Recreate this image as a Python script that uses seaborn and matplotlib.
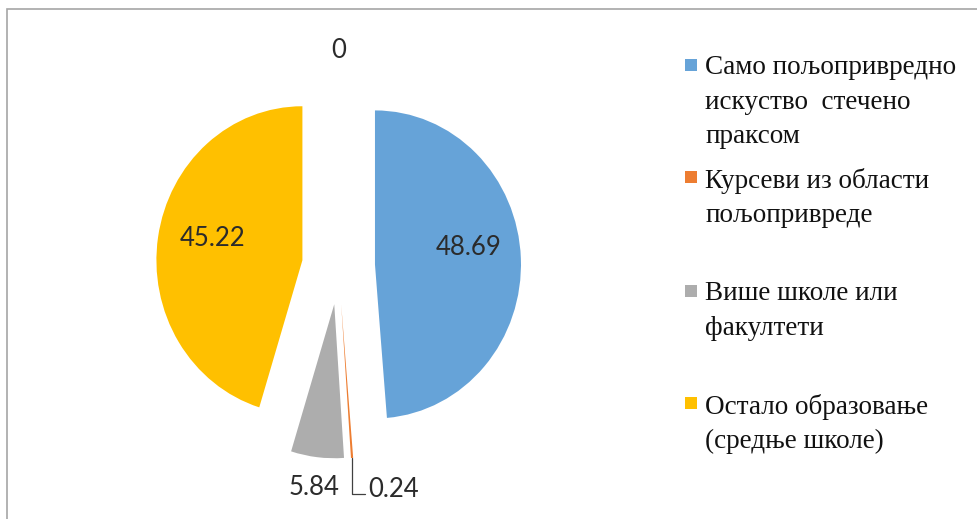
import numpy as np
import matplotlib
matplotlib.use('Agg')
import matplotlib.pyplot as plt
import seaborn as sns
from matplotlib.lines import Line2D
from matplotlib.patches import Rectangle

# data (percent)
categories = ['Само пољопривредно\nискуство  стечено\nпраксом',
              'Курсеви из области\nпољопривреде\n',
              'Више школе или\nфакултети\n',
              'Остало образовање\n(средње школе)']
shares = [48.69, 0.24, 5.84, 45.22]
unlisted_share = 0  # slice with no legend entry, only its "0" label shows
slice_colors = ['#66A3D8', '#ED7D31', '#ADADAD', '#FFC000']

# layout (pixels of the 977x519 picture)
W, H = 977, 519
CX, CY = 338.5, 266      # pie centre
RX, RY = 146, 154        # radius across / down (picture is a little stretched)

sns.set_theme(style='white')

fig = plt.figure(figsize=(W / 100, H / 100), dpi=100)
ax = fig.add_axes([0, 0, 1, 1])

values = shares + [unlisted_share]
palette = sns.color_palette(slice_colors + ['#FFFFFF'])
wedges, _ = ax.pie(values, colors=palette, startangle=90, counterclock=False,
                   explode=[0.25] * len(values), wedgeprops=dict(linewidth=0))
ax.set_aspect('auto')
ax.set_xlim(-CX / RX, (W - CX) / RX)
ax.set_ylim((CY - H) / RY, CY / RY)
ax.axis('off')

# data labels: distance from slice centre (radii) and turn off the mid angle
label_font = dict(family='Lato', size=18.5, color='#2b2b2b')
label_dist = [0.65, None, 1.2, 0.63, 1.15]
label_turn = [7.5, 0, 0, -4.5, 0]
for i, (w, v) in enumerate(zip(wedges, values)):
    mid = np.deg2rad((w.theta1 + w.theta2) / 2 + label_turn[i])
    text = f'{v:g}'
    if label_dist[i] is None:
        # thin slice: label off to the side with a leader line
        tip = (w.center[0] + w.r * np.cos(mid), w.center[1] + w.r * np.sin(mid))
        ax.annotate(text, xy=tip, xytext=(11.5, -22.5), textcoords='offset points',
                    ha='left', va='center', **label_font,
                    arrowprops=dict(arrowstyle='-', color='#404040', lw=0.9,
                                    relpos=(0, 0.3), shrinkA=0, shrinkB=0,
                                    connectionstyle='angle,angleA=0,angleB=90,rad=0'))
        continue
    d = label_dist[i]
    x = w.center[0] + d * w.r * np.cos(mid)
    y = w.center[1] + d * w.r * np.sin(mid)
    ax.text(x, y, text, ha='center', va='center', **label_font)

# legend
handles = [Line2D([], [], marker='s', linestyle='none', markersize=8.8,
                  markerfacecolor=c, markeredgewidth=0) for c in palette[:4]]
leg = fig.legend(handles, categories, loc='upper left',
                 bbox_to_anchor=(685 / W, 1 - 55.5 / H), frameon=False,
                 prop={'family': 'Liberation Serif', 'size': 19.5},
                 handlelength=0.44, handleheight=0.62, handletextpad=0.3,
                 labelspacing=0.71, borderpad=0, borderaxespad=0)
for t in leg.get_texts():
    t.set_linespacing(1.48)
    t.set_color('#111111')
for item in leg._legend_handle_box.get_children()[0].get_children():
    item.align = 'top'

# chart area border (only top and left edges are in the picture)
fig.add_artist(Rectangle((6.5 / W, -0.1), 2, 1.1 - 8.5 / H, transform=fig.transFigure,
                         fill=False, edgecolor='#A6A6A6', lw=1.2))

fig.savefig('out.png', dpi=100)
